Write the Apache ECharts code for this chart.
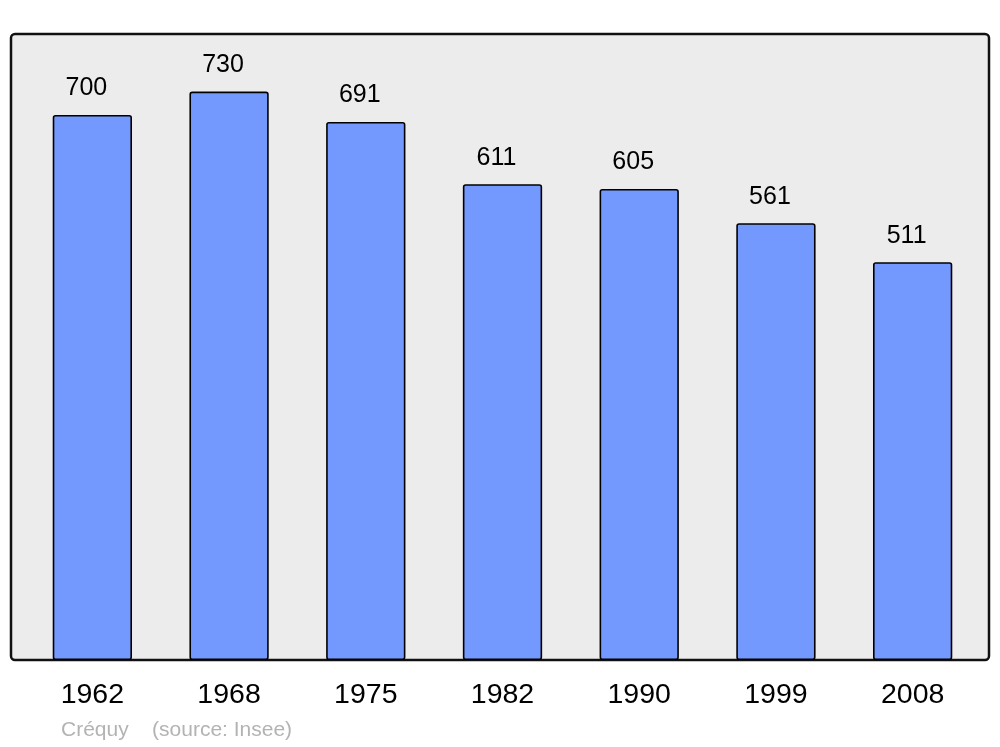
<!DOCTYPE html>
<html><head><meta charset="utf-8">
<script src="https://cdn.jsdelivr.net/npm/echarts@6/dist/echarts.min.js"></script>
<style>html,body{margin:0;padding:0;background:#fff}#c{width:1000px;height:747px}</style>
</head><body><div id="c"></div>
<script>
const categories = ['1962','1968','1975','1982','1990','1999','2008'];
const population = [700,730,691,611,605,561,511];
const footer = 'Créquy    (source: Insee)';

const chart = echarts.init(document.getElementById('c'), null, {renderer:'canvas'});
chart.setOption({
  animation:false,
  backgroundColor:'#ffffff',
  graphic:[
    {type:'rect', z:-10, shape:{x:11,y:34,width:978,height:626,r:4},
     style:{fill:'#ececec', stroke:'#111', lineWidth:2.5}},
    {type:'text', left:61, top:720,
     style:{text:footer, fill:'#b3b3b3', font:'21px "Liberation Sans", Arial, sans-serif'}}
  ],
  grid:{left:24, right:19, top:34, bottom:87, containLabel:false},
  xAxis:{type:'category', data:categories,
    axisLine:{show:false}, axisTick:{show:false}, splitLine:{show:false},
    axisLabel:{color:'#000', fontSize:28.5, fontFamily:'"Liberation Sans", Arial, sans-serif', margin:21}},
  yAxis:{type:'value', min:0, max:804, show:false, splitLine:{show:false}},
  series:[{type:'bar', data:population, barWidth:'58%',
    itemStyle:{color:'#7399ff', borderColor:'#000', borderWidth:1.6, borderRadius:2},
    label:{show:true, position:'top', distance:14, offset:[-6,0], color:'#000', fontSize:25,
      fontFamily:'"Liberation Sans", Arial, sans-serif'}}]
});
</script></body></html>
